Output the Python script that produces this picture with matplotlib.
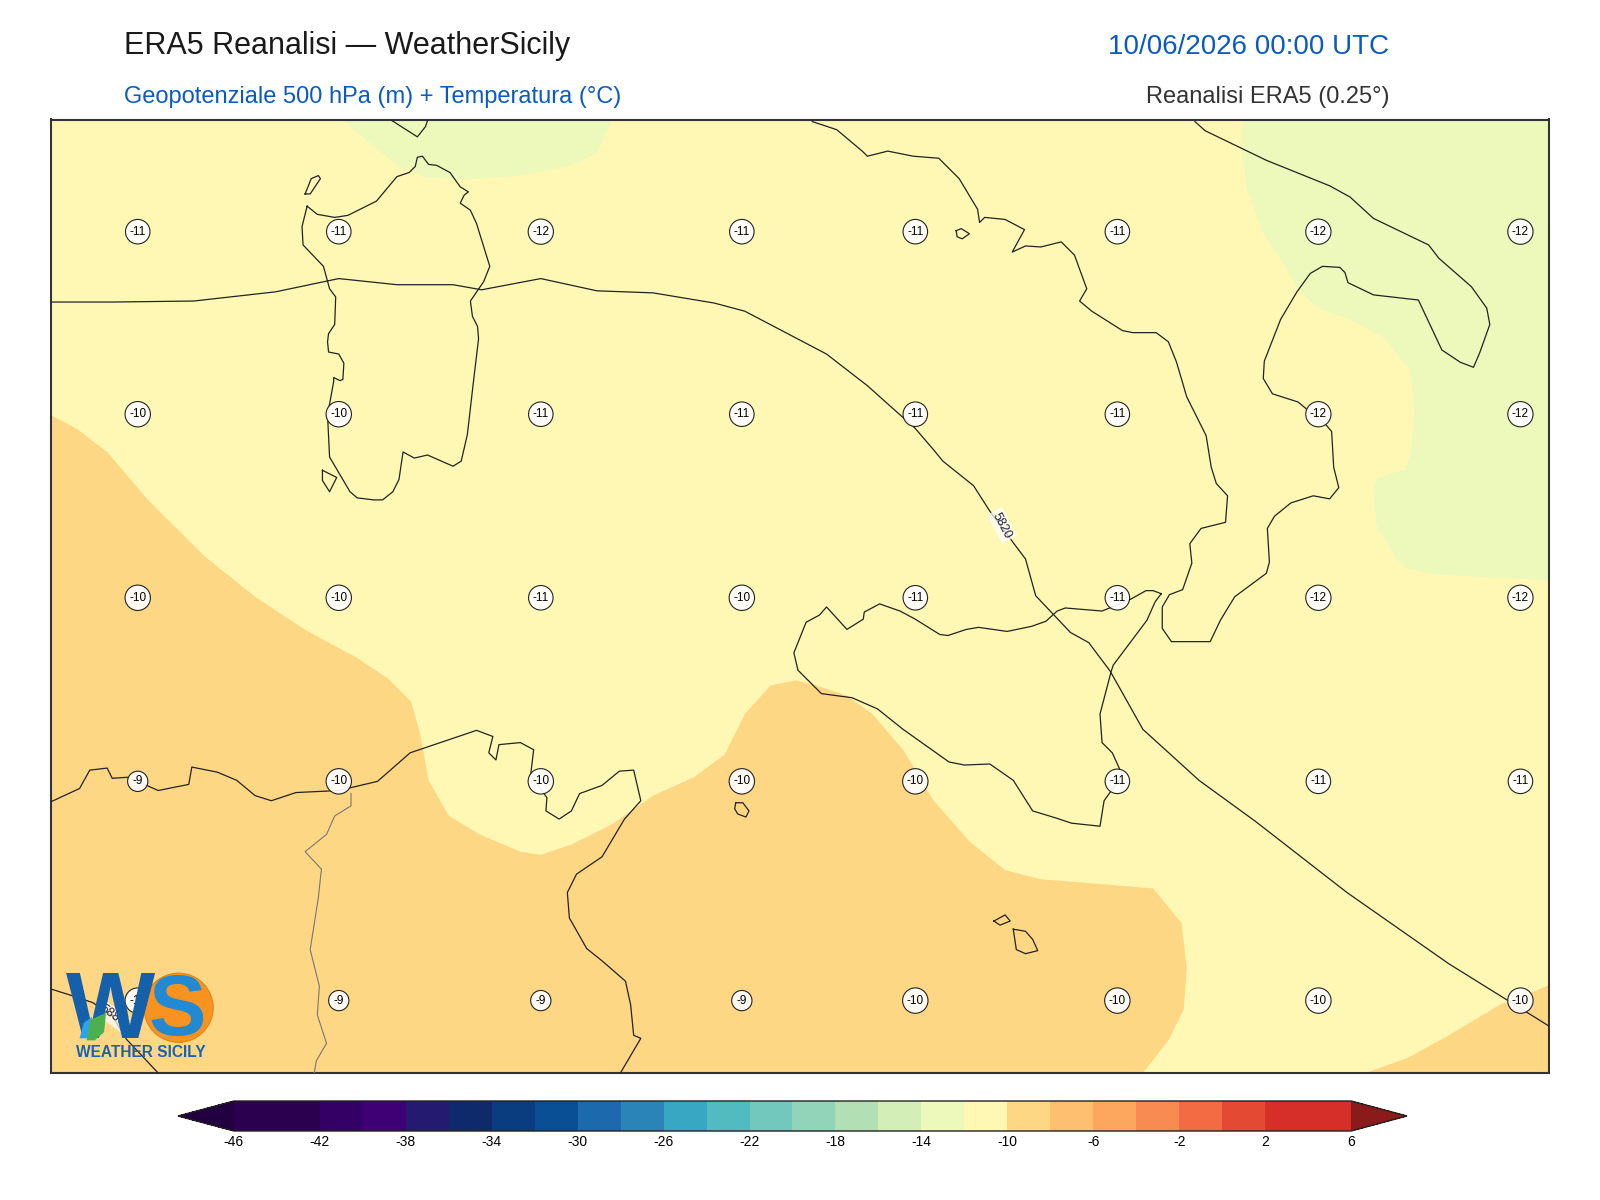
#!/usr/bin/env python3
"""ERA5 500 hPa geopotential + temperature map over Sicily and surroundings."""

import matplotlib
matplotlib.use('Agg')
import matplotlib.pyplot as plt
from matplotlib.colors import BoundaryNorm, ListedColormap
from matplotlib.patches import Circle, Polygon

plt.rcParams['font.family'] = ['Liberation Sans', 'DejaVu Sans']

# Colour scale of the temperature field
LEVELS = list(range(-46, 7, 2))
TICKS = list(range(-46, 7, 4))
LEVEL_COLORS = [
	'#2a004f', '#2a004f', '#340066', '#3f0076', '#241a70', '#0f2a6a', '#0a3d80',
	'#084f96', '#1c69ae', '#2b84b8', '#38a7c4', '#52bbc0', '#72c8bd', '#90d4b9',
	'#b2e0b4', '#d3eeb7', '#edf8bb', '#fff8b4', '#fed785', '#febf70', '#fda75e',
	'#f88b51', '#f26b43', '#e34933', '#d62f27', '#d62f27',
]
UNDER_COLOR = '#220040'
OVER_COLOR = '#8b1a1a'

# Traced map, in digitised map units
MAP_X = (50, 1518)
MAP_Y = (1052, 117)

# Temperature bands, (band level, boundary)
COLD_NORTH_X = [335, 366, 389, 418, 457, 510, 560, 585, 600]
COLD_NORTH_Y = [117, 143, 162, 174, 176, 172, 162, 150, 117]
COLD_EAST_X = [1218, 1217, 1222, 1238, 1258, 1274, 1294, 1323, 1356, 1382, 1386, 1383,
	1378, 1351, 1346, 1349, 1370, 1377, 1405, 1518, 1518]
COLD_EAST_Y = [117, 151, 185, 229, 259, 286, 303, 313, 331, 363, 404, 441,
	460, 468, 478, 515, 550, 557, 563, 569, 117]
WARM_SOUTH_X = [50, 75, 105, 145, 200, 250, 300, 350, 380, 403, 412, 420, 440, 470, 510,
	530, 560, 600, 640, 680, 710, 730, 755, 780, 800, 830, 855, 885, 915, 950,
	985, 1020, 1070, 1130, 1158, 1163, 1160, 1145, 1120, 50]
WARM_SOUTH_Y = [407, 420, 443, 490, 545, 585, 618, 645, 665, 688, 720, 765, 800, 818, 835,
	838, 828, 808, 780, 762, 740, 700, 672, 667, 672, 682, 700, 735, 785, 825,
	853, 862, 866, 871, 905, 950, 990, 1020, 1052, 1052]
WARM_SE_X = [1338, 1380, 1420, 1470, 1518, 1518]
WARM_SE_Y = [1052, 1037, 1015, 985, 966, 1052]

# Coastlines
SARDINIA_X = [301, 311, 328, 341, 369, 389, 401, 407, 409, 414, 420, 428, 441, 451, 459,
	455, 451, 461, 467, 480, 474, 461, 463, 468, 469, 464, 458, 452, 444, 419, 406, 395,
	391, 385, 375, 366, 350, 343, 323, 321, 327, 327, 333, 336, 337, 332, 322, 321, 322,
	328, 329, 323, 317, 297, 296, 301]
SARDINIA_Y = [202, 210, 213, 211, 197, 173, 169, 163, 154, 153, 161, 162, 169, 183, 188,
	191, 199, 206, 219, 261, 276, 295, 310, 320, 332, 374, 426, 452, 457, 446, 449, 443,
	470, 482, 490, 490, 488, 482, 448, 407, 374, 370, 373, 372, 356, 347, 345, 335, 327,
	318, 291, 283, 261, 240, 222, 202]
ASINARA_X = [299, 304, 314, 312, 305, 299]
ASINARA_Y = [190, 190, 175, 172, 175, 190]
SAN_PIETRO_X = [316, 316, 323, 330, 316]
SAN_PIETRO_Y = [461, 471, 482, 468, 461]
CORSICA_X = [384, 409, 417, 419]
CORSICA_Y = [118, 134, 124, 118]
ITALY_X = [796, 820, 845, 850, 870, 895, 920, 940, 958, 960, 965, 985, 1004, 992, 1005,
	1020, 1040, 1053, 1065, 1058, 1070, 1100, 1110, 1133, 1145, 1153, 1163, 1182, 1187,
	1192, 1203, 1201, 1177, 1166, 1168, 1159, 1146, 1139, 1139, 1148, 1186, 1196, 1210,
	1241, 1244, 1242, 1249, 1265, 1287, 1303, 1312, 1307, 1305, 1300, 1272, 1247, 1238,
	1239, 1255, 1271, 1284, 1296, 1313, 1318, 1321, 1346, 1390, 1413, 1431, 1444, 1450,
	1460, 1457, 1442, 1410, 1400, 1346, 1323, 1303, 1241, 1181, 1171]
ITALY_Y = [119, 127, 148, 153, 148, 153, 155, 175, 205, 218, 213, 215, 225, 247, 241,
	242, 237, 250, 283, 295, 305, 324, 326, 326, 335, 355, 389, 427, 458,
	474, 486, 512, 518, 533, 552, 578, 583, 595, 616, 629, 629, 608, 585,
	562, 551, 518, 506, 493, 486, 489, 478, 458, 423, 417, 394, 386, 371,
	354, 313, 286, 268, 261, 262, 267, 277, 289, 294, 343, 355, 360, 346,
	318, 302, 281, 253, 240, 214, 193, 182, 157, 128, 119]
SICILY_X = [1138, 1130, 1123, 1107, 1080, 1044, 1036, 1025, 1011, 987, 959, 947, 929, 921,
	897, 882, 862, 847, 846, 830, 810, 803, 790, 778, 782, 805, 835, 860, 885, 930, 945,
	970, 993, 1012, 1035, 1050, 1078, 1082, 1100, 1090, 1080, 1078, 1089, 1091, 1124, 1132, 1138]
SICILY_Y = [582, 579, 579, 588, 599, 596, 599, 609, 614, 619, 615, 617, 623, 622,
	607, 599, 592, 600, 607, 617, 595, 603, 610, 640, 657, 680, 684, 695, 715, 747, 750,
	749, 765, 795, 802, 807, 810, 785, 760, 738, 728, 700, 658, 652, 608, 590, 582]
AFRICA_X = [50, 78, 88, 105, 110, 125, 135, 155, 185, 188, 213, 232, 250, 266, 290, 332, 370,
	402, 467, 483, 479, 486, 489, 510, 523, 520, 536, 535, 548, 560, 568, 590, 607, 621,
	628, 612, 590, 565, 556, 558, 575, 590, 613, 618, 621, 628, 608]
AFRICA_Y = [786, 773, 755, 753, 763, 762, 766, 775, 769, 752, 757, 765, 780, 785, 777, 775, 766,
	738, 716, 722, 738, 745, 730, 728, 735, 760, 782, 795, 803, 795, 778, 770, 756, 755,
	785, 803, 840, 857, 875, 900, 930, 942, 962, 985, 1015, 1018, 1052]
MALTA_X = [721, 728, 734, 731, 723, 720, 721]
MALTA_Y = [787, 787, 795, 801, 798, 793, 787]
LINOSA_X = [974, 985, 990, 980, 974]
LINOSA_Y = [903, 897, 903, 907, 903]
LAMPEDUSA_X = [993, 1005, 1012, 1017, 1005, 996, 993]
LAMPEDUSA_Y = [911, 913, 921, 932, 935, 931, 911]
ELBA_X = [937, 942, 950, 943, 938, 937]
ELBA_Y = [226, 224, 229, 234, 232, 226]
COASTS = [
	(SARDINIA_X, SARDINIA_Y), (ASINARA_X, ASINARA_Y), (SAN_PIETRO_X, SAN_PIETRO_Y),
	(CORSICA_X, CORSICA_Y), (ITALY_X, ITALY_Y), (SICILY_X, SICILY_Y), (AFRICA_X, AFRICA_Y),
	(MALTA_X, MALTA_Y), (LINOSA_X, LINOSA_Y), (LAMPEDUSA_X, LAMPEDUSA_Y), (ELBA_X, ELBA_Y),
]
BORDER_X = [344, 344, 328, 320, 299, 315, 312, 304, 313, 311, 320, 310, 308]
BORDER_Y = [778, 790, 800, 818, 835, 852, 880, 931, 967, 995, 1023, 1040, 1052]

# Geopotential isolines
Z5820_X = [50, 110, 190, 270, 332, 389, 444, 472, 530, 585, 640, 700, 730, 810, 850, 897, 915,
	924, 954, 970, 993, 1005, 1015, 1049, 1067, 1088, 1120, 1175, 1230, 1320, 1420, 1518]
Z5820_Y = [296, 296, 295, 286, 273, 279, 279, 284, 273, 285, 287, 297, 305, 347, 378, 420, 441,
	452, 476, 501, 532, 548, 584, 620, 630, 658, 715, 765, 805, 875, 945, 1006]
Z5880_X = [51, 67, 91, 110, 124, 155]
Z5880_Y = [970, 975, 983, 996, 1019, 1052]

# Station temperatures
STATION_X = [135, 332, 530, 727, 897, 1095, 1292, 1490]
STATION_Y = [227, 406, 586, 766, 981]
STATION_T = [
	[-11, -11, -12, -11, -11, -11, -12, -12],
	[-10, -10, -11, -11, -11, -11, -12, -12],
	[-10, -10, -11, -10, -11, -11, -12, -12],
	[-9, -10, -10, -10, -10, -11, -11, -11],
	[-10, -9, -9, -9, -10, -10, -10, -10],
]

FIG_W, FIG_H = 1600, 1200

def px_box(left, top, right, bottom):
	"""Figure fractions from picture pixels."""
	return [left / FIG_W, 1 - bottom / FIG_H, (right - left) / FIG_W, (bottom - top) / FIG_H]

fig = plt.figure(figsize=(16, 12), dpi=100)
ax = fig.add_axes(px_box(51, 119.5, 1549, 1073))
ax.set_xlim(*MAP_X)
ax.set_ylim(*MAP_Y)
ax.set_xticks([])
ax.set_yticks([])
ax.set_facecolor(LEVEL_COLORS[17])
for spine in ax.spines.values():
	spine.set_linewidth(1.5)
	spine.set_color('#333333')

# Temperature bands
ax.fill(COLD_NORTH_X, COLD_NORTH_Y, color=LEVEL_COLORS[16], lw=0, zorder=1)
ax.fill(COLD_EAST_X, COLD_EAST_Y, color=LEVEL_COLORS[16], lw=0, zorder=1)
ax.fill(WARM_SOUTH_X, WARM_SOUTH_Y, color=LEVEL_COLORS[18], lw=0, zorder=1)
ax.fill(WARM_SE_X, WARM_SE_Y, color=LEVEL_COLORS[18], lw=0, zorder=1)

# Coasts and border
for coast_x, coast_y in COASTS:
	ax.plot(coast_x, coast_y, color='#222222', lw=0.9, zorder=3)
ax.plot(BORDER_X, BORDER_Y, color='#777777', lw=0.8, zorder=3)

# Isolines
ax.plot(Z5820_X, Z5820_Y, color='#222222', lw=0.9, zorder=4)
ax.plot(Z5880_X, Z5880_Y, color='#222222', lw=0.9, zorder=4)
ax.text(982, 515, '5820', rotation=-62, fontsize=9, color='#222244', ha='center', va='center',
	rotation_mode='anchor', zorder=5,
	bbox=dict(boxstyle='square,pad=0.2', fc='white', ec='none', alpha=0.7))
ax.text(110, 996, '5880', rotation=-35, fontsize=9, color='#222244', ha='center', va='center',
	rotation_mode='anchor', zorder=5,
	bbox=dict(boxstyle='square,pad=0.2', fc='white', ec='none', alpha=0.7))

# Station labels
for y, row in zip(STATION_Y, STATION_T):
	for x, val in zip(STATION_X, row):
		ax.text(x, y, str(val), fontsize=8.5, color='black', ha='center', va='center', zorder=6,
			bbox=dict(boxstyle='circle,pad=0.35', fc=(1, 1, 1, 0.92), ec='#222222', lw=0.8))

# Logo
ax.add_patch(Circle((175, 988), 34, fc='#f7931e', ec='#d97a10', lw=0.6, zorder=7))
ax.text(108, 994, 'W', fontsize=68, fontweight='bold', color='#1560ab', ha='center', va='center', zorder=8)
ax.text(174, 993, 'S', fontsize=62, fontweight='bold', color='#2289d3', ha='center', va='center', zorder=8)
ax.add_patch(Polygon([(78, 1018), (82, 1003), (90, 997), (90, 1018)],
	closed=True, fc='#2aa5ee', ec='none', zorder=9))
ax.add_patch(Polygon([(85, 1020), (88, 1000), (104, 993), (102, 1012), (93, 1020)],
	closed=True, fc='#4caf50', ec='none', zorder=9))
ax.text(138, 1032, 'Weather Sicily'.upper(), fontsize=11.2, fontweight='bold', color='#1a62ad',
	ha='center', va='center', zorder=8)

# Colourbar
cmap = ListedColormap(LEVEL_COLORS).with_extremes(under=UNDER_COLOR, over=OVER_COLOR)
norm = BoundaryNorm(LEVELS, cmap.N)
mappable = plt.cm.ScalarMappable(norm=norm, cmap=cmap)
cax = fig.add_axes(px_box(178, 1101, 1407, 1131))
cbar = fig.colorbar(mappable, cax=cax, orientation='horizontal', extend='both',
	ticks=TICKS, spacing='proportional', extendfrac=0.05, drawedges=False)
cbar.ax.minorticks_off()
cbar.ax.tick_params(which='both', length=0, labelsize=10, pad=3)
cbar.set_ticklabels([str(t) for t in TICKS])
cbar.outline.set_linewidth(1.0)
cbar.outline.set_edgecolor('#222222')

# Titles
def label(x, y, text, size, color, ha='left'):
	fig.text(x / FIG_W, 1 - y / FIG_H, text, fontsize=size, color=color, ha=ha, va='baseline')

label(124, 54, 'ERA5 Reanalisi — WeatherSicily', 22, '#1a1a1a')
label(124, 103, 'Geopotenziale 500 hPa (m) + Temperatura (°C)', 17, '#0a5ac2')
label(1389, 54, '10/06/2026 00:00 UTC', 20, '#0a5ac2', ha='right')
label(1389, 103, 'Reanalisi ERA5 (0.25°)', 17, '#333333', ha='right')

plt.savefig('out.png', dpi=100)
plt.close()
